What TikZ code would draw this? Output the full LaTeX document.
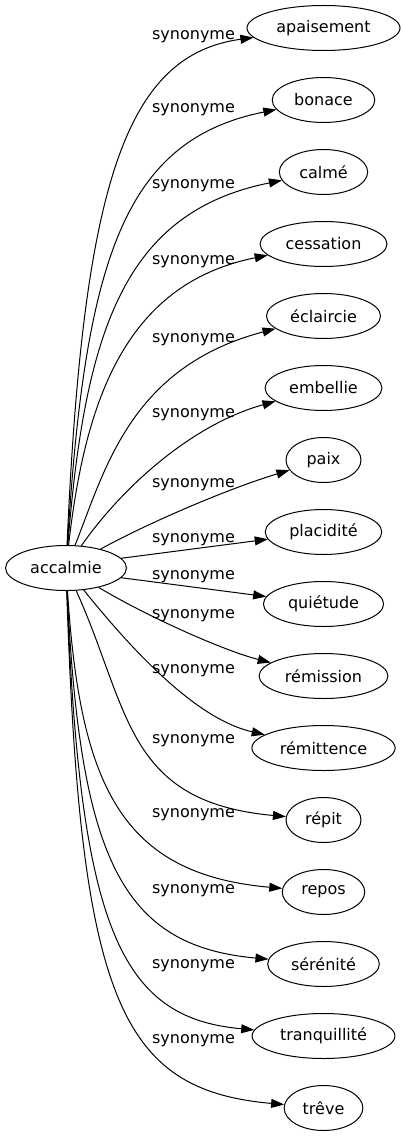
\documentclass[tikz,border=0pt]{standalone}
\usepackage{fontspec}
\setmainfont{DejaVu Sans}
\usetikzlibrary{shapes.geometric,arrows.meta}

\begin{document}
\begin{tikzpicture}[x=1pt,y=-1pt,
  mot/.style={draw,ellipse,line width=1pt,inner xsep=7pt,inner ysep=3pt,
    minimum height=45pt,minimum width=75pt,font=\fontsize{16}{19}\selectfont},
  rel/.style={anchor=base,inner sep=0pt,font=\fontsize{16}{19}\selectfont},
  lien/.style={line width=1pt,-{Triangle[length=13pt,width=9pt]}}]
	\useasboundingbox (0,0) rectangle (402,1139);
    % mot de depart
    \node[mot] (acc) at (66,568) {accalmie};
    % synonymes
    \node[mot] (apaisement) at (323.5,28) {apaisement};
    \node[mot] (bonace) at (323.5,100) {bonace};
    \node[mot] (calme) at (323.5,172) {calmé};
    \node[mot] (cessation) at (323.5,244) {cessation};
    \node[mot] (eclaircie) at (323.5,316) {éclaircie};
    \node[mot] (embellie) at (323.5,388) {embellie};
    \node[mot] (paix) at (323.5,460) {paix};
    \node[mot] (placidite) at (323.5,532) {placidité};
    \node[mot] (quietude) at (323.5,604) {quiétude};
    \node[mot] (remission) at (323.5,676) {rémission};
    \node[mot] (remittence) at (323.5,748) {rémittence};
    \node[mot] (repit) at (323.5,820) {répit};
    \node[mot] (repos) at (323.5,892) {repos};
    \node[mot] (serenite) at (323.5,964) {sérénité};
    \node[mot] (tranquillite) at (323.5,1036) {tranquillité};
    \node[mot] (treve) at (323.5,1108) {trêve};
    % liens vers le haut
    \draw[lien] (acc) .. controls (83,185) and (125,55) .. (apaisement);
    \draw[lien] (acc) .. controls (85,257) and (125,140) .. (bonace);
    \draw[lien] (acc) .. controls (85,329) and (125,212) .. (calme);
    \draw[lien] (acc) .. controls (85,401) and (125,284) .. (cessation);
    \draw[lien] (acc) .. controls (105,470) and (130,367) .. (eclaircie);
    \draw[lien] (acc) .. controls (120,490) and (190,425) .. (embellie);
    \draw[lien] (acc) .. controls (150,522) and (230,488) .. (paix);
    \draw[lien] (acc.10) -- (placidite);
    % liens vers le bas
    \draw[lien] (acc.-10) -- (quietude);
    \draw[lien] (acc) .. controls (150,618) and (225,651) .. (remission);
    \draw[lien] (acc) .. controls (140,660) and (200,720) .. (remittence);
    \draw[lien] (acc) .. controls (130,710) and (125,802) .. (repit);
    \draw[lien] (acc) .. controls (80,784) and (120,874) .. (repos);
    \draw[lien] (acc) .. controls (80,856) and (120,946) .. (serenite);
    \draw[lien] (acc) .. controls (80,928) and (120,1018) .. (tranquillite);
    \draw[lien] (acc) .. controls (80,1000) and (120,1090) .. (treve);
    % etiquettes
    \node[rel] (l1) at (193.5,40) {synonyme};
    \node[rel] (l2) at (193.5,113) {synonyme};
    \node[rel] (l3) at (193.5,189) {synonyme};
    \node[rel] (l4) at (193.5,265) {synonyme};
    \node[rel] (l5) at (193.5,342) {synonyme};
    \node[rel] (l6) at (193.5,417) {synonyme};
    \node[rel] (l7) at (193.5,487) {synonyme};
    \node[rel] (l8) at (193.5,542) {synonyme};
    \node[rel] (l9) at (193.5,579) {synonyme};
    \node[rel] (l10) at (193.5,618) {synonyme};
    \node[rel] (l11) at (193.5,673) {synonyme};
    \node[rel] (l12) at (193.5,743) {synonyme};
    \node[rel] (l13) at (193.5,817) {synonyme};
    \node[rel] (l14) at (193.5,893) {synonyme};
    \node[rel] (l15) at (193.5,968) {synonyme};
    \node[rel] (l16) at (193.5,1043) {synonyme};
\end{tikzpicture}
\end{document}
